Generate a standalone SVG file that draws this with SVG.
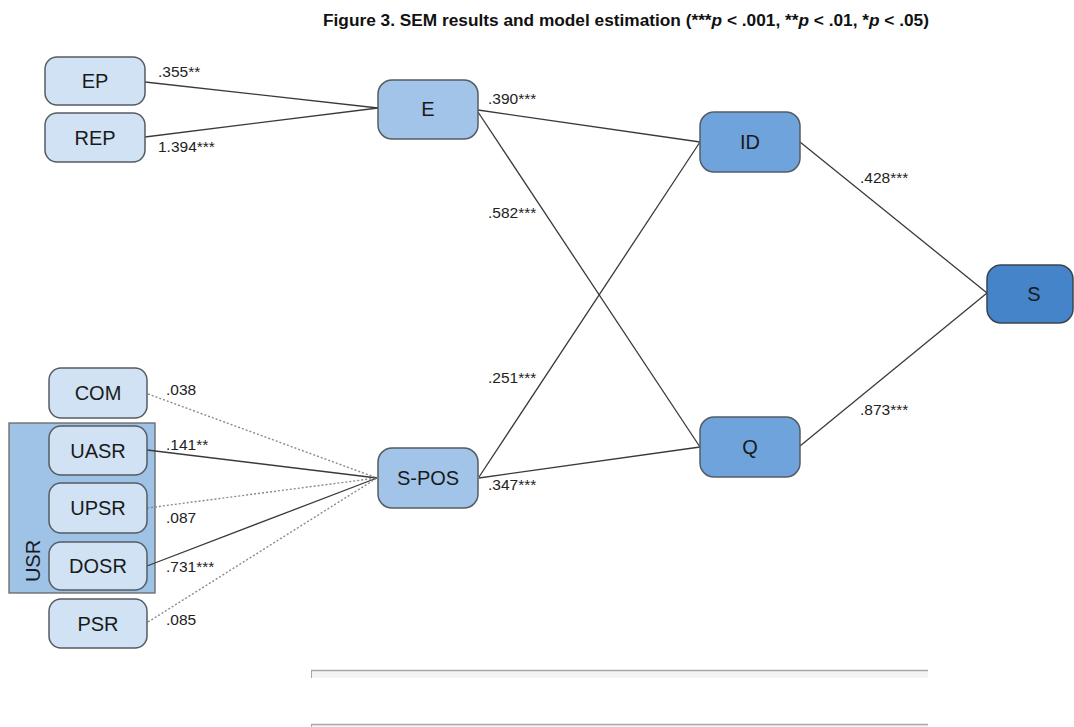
<svg xmlns="http://www.w3.org/2000/svg" width="1074" height="727" viewBox="0 0 1074 727">
<style>
.nl{fill:#d0e2f4;stroke:#555c63;stroke-width:1.5}
.nm{fill:#a2c4e9;stroke:#555c63;stroke-width:1.5}
.nd{fill:#6fa3dc;stroke:#555c63;stroke-width:1.5}
.ns{fill:#4584c9;stroke:#3a4450;stroke-width:1.5}
.t{font-family:"Liberation Sans",Arial,sans-serif;font-size:20px;fill:#1a1a1a;text-anchor:middle}
.lb{font-family:"Liberation Sans",Arial,sans-serif;font-size:15.5px;fill:#222}
.s{stroke:#3a3a3a;stroke-width:1.3;fill:none}
.d{stroke:#8a8a8a;stroke-width:1.4;stroke-dasharray:2 2;fill:none}
</style>
<rect width="1074" height="727" fill="#ffffff"/>
<text x="626" y="26" font-family="Liberation Sans,Arial,sans-serif" font-size="16" font-weight="bold" fill="#111" text-anchor="middle" textLength="606" lengthAdjust="spacingAndGlyphs">Figure 3. SEM results and model estimation (***<tspan font-style="italic">p</tspan> &lt; .001, **<tspan font-style="italic">p</tspan> &lt; .01, *<tspan font-style="italic">p</tspan> &lt; .05)</text>

<g id="usr">
<rect x="9" y="423" width="146" height="170" fill="#9fc3e7" stroke="#666" stroke-width="1.3"/>
<text class="t" transform="translate(40 561) rotate(-90)">USR</text>
</g>

<g id="connectors">
<line class="s" x1="145" y1="82" x2="378" y2="108"/>
<line class="s" x1="145" y1="137" x2="378" y2="108"/>
<line class="s" x1="478" y1="110" x2="700" y2="142"/>
<line class="s" x1="478" y1="112" x2="700" y2="447"/>
<line class="s" x1="479" y1="477" x2="700" y2="142"/>
<line class="s" x1="479" y1="478" x2="700" y2="447"/>
<line class="s" x1="800" y1="142" x2="987" y2="293"/>
<line class="s" x1="800" y1="446" x2="987" y2="293"/>
<line class="d" x1="148" y1="394" x2="377" y2="478"/>
<line class="s" x1="147" y1="450" x2="377" y2="478"/>
<line class="d" x1="147" y1="508" x2="377" y2="478"/>
<line class="s" x1="147" y1="566" x2="377" y2="478"/>
<line class="d" x1="148" y1="622" x2="377" y2="478"/>
</g>

<g id="labels">
<text class="lb" x="158" y="77">.355**</text>
<text class="lb" x="158" y="152">1.394***</text>
<text class="lb" x="488" y="104">.390***</text>
<text class="lb" x="488" y="218">.582***</text>
<text class="lb" x="488" y="383">.251***</text>
<text class="lb" x="488" y="490">.347***</text>
<text class="lb" x="860" y="183">.428***</text>
<text class="lb" x="860" y="415">.873***</text>
<text class="lb" x="166" y="395">.038</text>
<text class="lb" x="166" y="450">.141**</text>
<text class="lb" x="166" y="523">.087</text>
<text class="lb" x="166" y="572">.731***</text>
<text class="lb" x="166" y="625">.085</text>
</g>

<g id="EP"><rect class="nl" x="45" y="57" width="100" height="48" rx="12"/><text class="t" x="95" y="88">EP</text></g>
<g id="REP"><rect class="nl" x="45" y="113" width="100" height="49" rx="12"/><text class="t" x="95" y="145">REP</text></g>
<g id="E"><rect class="nm" x="378" y="80" width="100" height="59" rx="14"/><text class="t" x="428" y="116">E</text></g>
<g id="ID"><rect class="nd" x="700" y="112" width="100" height="60" rx="14"/><text class="t" x="750" y="149">ID</text></g>
<g id="Q"><rect class="nd" x="700" y="417" width="100" height="60" rx="14"/><text class="t" x="750" y="454">Q</text></g>
<g id="S"><rect class="ns" x="987" y="265" width="86" height="58" rx="14"/><text class="t" x="1034" y="301">S</text></g>
<g id="SPOS"><rect class="nm" x="378" y="448" width="100" height="60" rx="14"/><text class="t" x="428" y="485">S-POS</text></g>
<g id="COM"><rect class="nl" x="49" y="368" width="98" height="50" rx="12"/><text class="t" x="98" y="400">COM</text></g>
<g id="UASR"><rect class="nl" x="49" y="426" width="98" height="49" rx="12"/><text class="t" x="98" y="458">UASR</text></g>
<g id="UPSR"><rect class="nl" x="49" y="483" width="98" height="50" rx="12"/><text class="t" x="98" y="515">UPSR</text></g>
<g id="DOSR"><rect class="nl" x="49" y="542" width="98" height="48" rx="12"/><text class="t" x="98" y="573">DOSR</text></g>
<g id="PSR"><rect class="nl" x="49" y="599" width="98" height="49" rx="12"/><text class="t" x="98" y="631">PSR</text></g>

<g id="bars">
<rect x="311" y="670" width="617" height="8" fill="#f4f4f4"/>
<line x1="311" y1="670.5" x2="928" y2="670.5" stroke="#a8a8a8" stroke-width="1.5"/>
<line x1="311.5" y1="670" x2="311.5" y2="678" stroke="#a8a8a8" stroke-width="1"/>
<rect x="311" y="724" width="617" height="3" fill="#f4f4f4"/>
<line x1="311" y1="724.5" x2="928" y2="724.5" stroke="#a8a8a8" stroke-width="1.5"/>
<line x1="311.5" y1="724" x2="311.5" y2="727" stroke="#a8a8a8" stroke-width="1"/>
</g>
</svg>
